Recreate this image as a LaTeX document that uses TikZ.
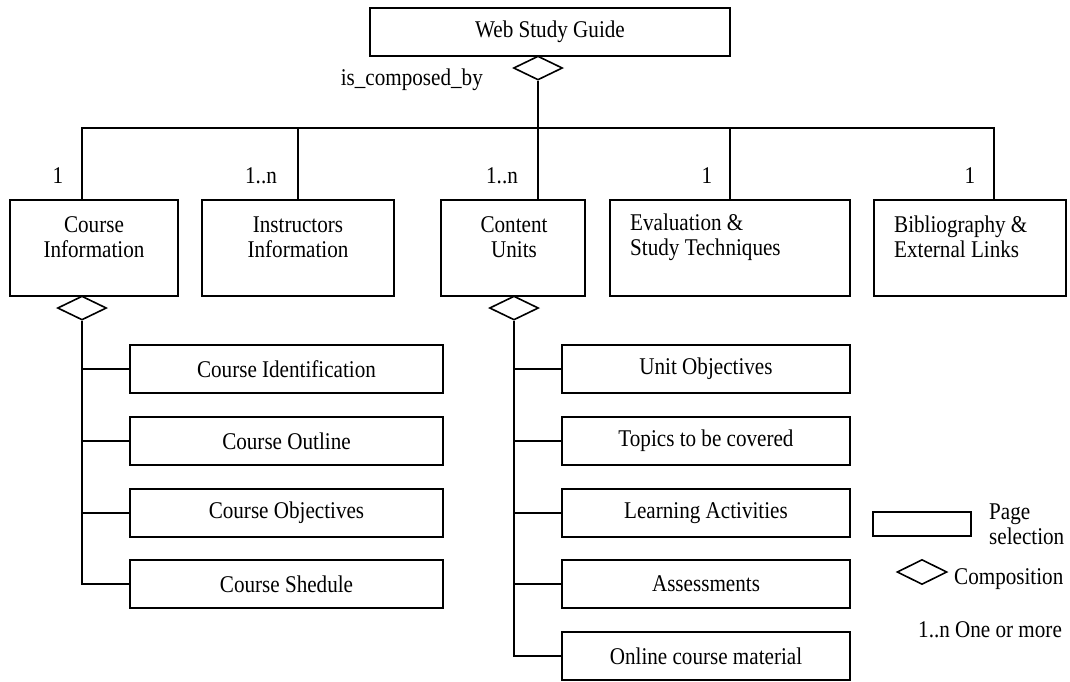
\documentclass[tikz,border=0pt]{standalone}
\usepackage{fontspec}
\setmainfont{Liberation Serif}[FakeStretch=0.88]
\usetikzlibrary{shapes.geometric}
\begin{document}
\begin{tikzpicture}[x=1pt,y=-1pt,
  every node/.style={font=\fontsize{24}{25}\selectfont},
  box/.style={draw,line width=1.6pt,rectangle,inner sep=0pt,minimum height=48},
  bigbox/.style={box,minimum height=96},
  comp/.style={draw,line width=1.6pt,diamond,inner sep=0pt,minimum width=49,minimum height=24},
  link/.style={line width=1.6pt},
  txt/.style={inner sep=0pt,align=center}]
\useasboundingbox (0,0) rectangle (1070,681);
% top
\node[box,minimum width=360] (wsg) at (550,32) {Web Study Guide};
\node[comp] (wsgd) at (538,68) {};
\node[txt,anchor=base east] (isc) at (483,85) {is\_composed\_by};
% level 1 boxes
\node[bigbox,minimum width=168] (ci) at (94,248) {};
\node[bigbox,minimum width=192] (ii) at (298,248) {};
\node[bigbox,minimum width=144] (cu) at (513,248) {};
\node[bigbox,minimum width=240] (ev) at (730,248) {};
\node[bigbox,minimum width=192] (bib) at (970,248) {};
\node[txt] (cit) at (94,237) {Course\\Information};
\node[txt] (iit) at (298,237) {Instructors\\Information};
\node[txt] (cut) at (514,237) {Content\\Units};
\node[txt,align=left,anchor=west] (evt) at (630,237) {Evaluation \&\\Study Techniques};
\node[txt,align=left,anchor=west] (bibt) at (894,237) {Bibliography \&\\External Links};
% multiplicities
\node[txt] (m1) at (58,176) {1};
\node[txt] (m2) at (261,176) {1..n};
\node[txt] (m3) at (502,176) {1..n};
\node[txt] (m4) at (707,176) {1};
\node[txt] (m5) at (970,176) {1};
% bus
\coordinate (b1) at (82,128);
\coordinate (b2) at (298,128);
\coordinate (b4) at (730,128);
\coordinate (b5) at (994,128);
\draw[link] (wsgd.south) -- (wsgd.south |- cu.north);
\draw[link] (b1 |- ci.north) -- (b1) -- (b5) -- (b5 |- bib.north);
\draw[link] (b2) -- (b2 |- ii.north);
\draw[link] (b4) -- (b4 |- ev.north);
% composition diamonds
\node[comp] (cid) at (82,308) {};
\node[comp] (cud) at (514,308) {};
% left sub boxes
\node[box,minimum width=313] (cidn) at (286.5,369) {Course Identification};
\node[box,minimum width=313] (cout) at (286.5,441) {Course Outline};
\node[box,minimum width=313] (cobj) at (286.5,513) {Course Objectives};
\node[box,minimum width=313] (csch) at (286.5,584) {Course Shedule};
\draw[link] (cid.south) -- (cid.south |- csch.west) -- (csch.west);
\foreach \n in {cidn,cout,cobj} \draw[link] (cid.south |- \n.west) -- (\n.west);
% right sub boxes
\node[box,minimum width=288] (uobj) at (706,369) {Unit Objectives};
\node[box,minimum width=288] (topc) at (706,441) {Topics to be covered};
\node[box,minimum width=288] (lact) at (706,513) {Learning Activities};
\node[box,minimum width=288] (asse) at (706,584) {Assessments};
\node[box,minimum width=288] (onl) at (706,656) {Online course material};
\draw[link] (cud.south) -- (cud.south |- onl.west) -- (onl.west);
\foreach \n in {uobj,topc,lact,asse} \draw[link] (cud.south |- \n.west) -- (\n.west);
% legend
\node[box,minimum width=98,minimum height=24] (lgbox) at (922,524) {};
\node[txt,align=left,anchor=west] (lgbt) at (989,524) {Page\\selection};
\node[comp,minimum width=50,minimum height=25] (lgd) at (922,572) {};
\node[txt,anchor=west] (lgdt) at (954,579) {Composition};
\node[txt,anchor=west] (lgm) at (918,630) {1..n One or more};
\end{tikzpicture}
\end{document}
